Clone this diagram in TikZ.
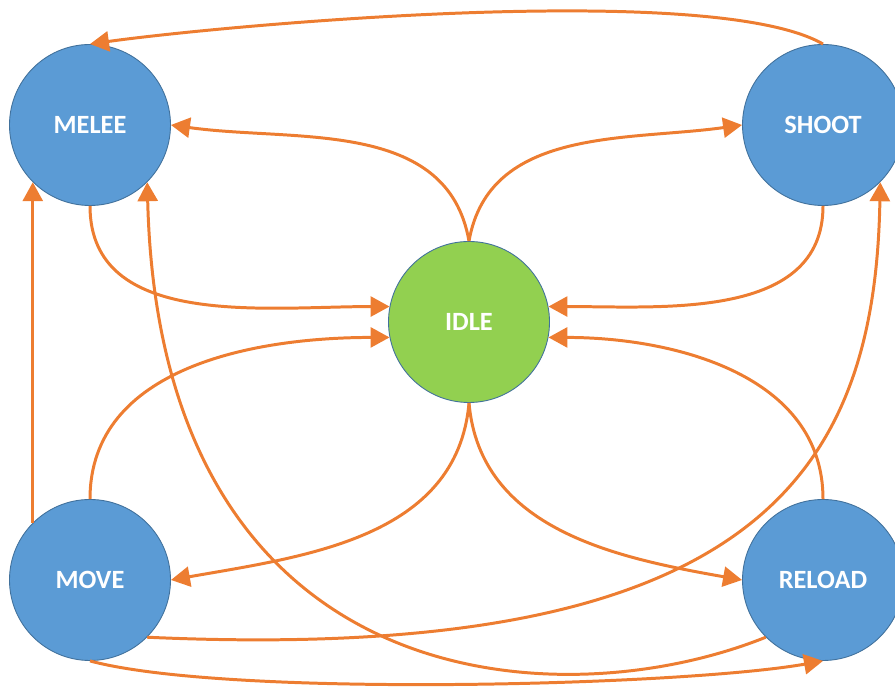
\documentclass[tikz,border=0pt]{standalone}
\usepackage{fontspec}
\setmainfont{Carlito}
\usepackage{tikz}
\usetikzlibrary{arrows.meta}
\definecolor{linkorange}{HTML}{ED7D31}
\definecolor{stateblue}{HTML}{5B9BD5}
\definecolor{stateedge}{HTML}{41719C}
\definecolor{idlegreen}{HTML}{92D050}
\begin{document}
\begin{tikzpicture}[
  state/.style={draw=stateedge,line width=0.5pt,fill=stateblue,shape=circle,
    minimum size=3.22cm,inner sep=0pt,text=white,font=\fontsize{15}{18}\selectfont\bfseries},
  link/.style={draw=linkorange,line width=1.7pt,
    -{Triangle[length=0.38cm,width=0.4cm,fill=linkorange]}}]
\useasboundingbox (0,0) rectangle (17.9,13.78);
%states
\node[state] (melee) at (1.8,11.28) {MELEE};
\node[state] (shoot) at (16.46,11.28) {SHOOT};
\node[state,fill=idlegreen] (idle) at (9.38,7.34) {IDLE};
\node[state] (move) at (1.8,2.18) {MOVE};
\node[state] (reload) at (16.46,2.18) {RELOAD};
%idle out
\draw[link] (idle.north) to[out=100,in=-8] (melee.east);
\draw[link] (idle.north) to[out=80,in=188] (shoot.west);
\draw[link] (idle.south) to[out=-95,in=10] (move.east);
\draw[link] (idle.south) to[out=-85,in=170] (reload.west);
%back to idle
\draw[link] (melee.south) to[out=-90,in=180] (idle.169);
\draw[link] (shoot.south) to[out=-90,in=0] (idle.11);
\draw[link] (move.north) to[out=90,in=180] (idle.191);
\draw[link] (reload.north) to[out=90,in=0] (idle.349);
%outer
\draw[link] (shoot.north) to[out=150,in=8,looseness=0.45] (melee.north);
\draw[link] (move.135)--(melee.225);
\draw[link] (reload.225) .. controls (11.2,-0.62) and (3.2,-0.22) .. (melee.-45);
\draw[link] (move.-45) .. controls (15.2,0.48) and (17.5,4.38) .. (shoot.-45);
\draw[link] (move.south) to[out=-15,in=190,looseness=0.5] (reload.south);
\end{tikzpicture}
\end{document}
